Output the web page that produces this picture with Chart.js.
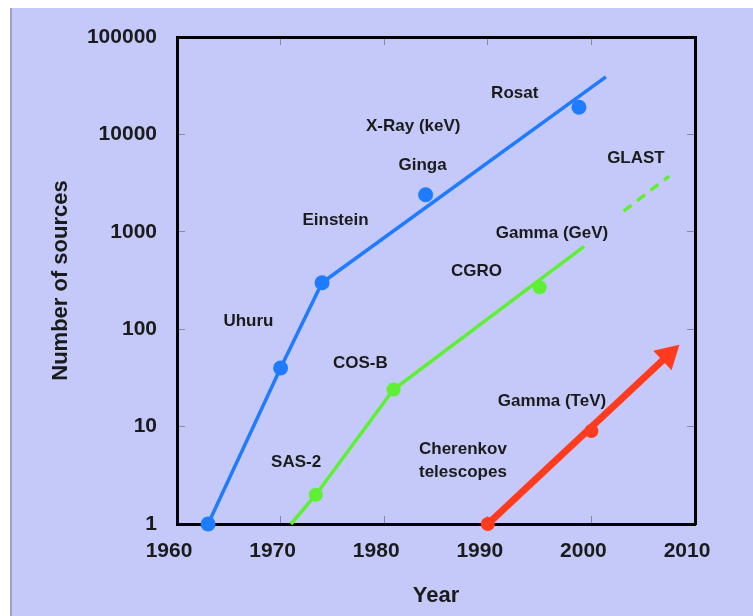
<!DOCTYPE html>
<html lang="en">
<head>
<meta charset="UTF-8">
<title>Number of sources by year</title>
<script src="https://cdn.jsdelivr.net/npm/chart.js"></script>
<style>
  html, body { margin: 0; padding: 0; background: #fff; }
  #wrap { position: relative; width: 753px; height: 616px; overflow: hidden; }
  #panel { position: absolute; left: 10px; top: 8px; right: 0; bottom: 0; background: #c5c9f9; border-left: 2px solid #a0a3cf; }
  #chart { position: absolute; left: 0; top: 0; }
</style>
</head>
<body>
<div id="wrap"><div id="panel"></div><canvas id="chart" width="753" height="616"></canvas></div>
<script>
// X-ray (keV): trend line through Uhuru / Einstein, then extrapolated
const xrayYears = [1963, 1970, 1974, 2001.4];
const xrayCounts = [1, 40, 300, 39000];
// Ginga, Rosat
const xrayMarkYears = [1984, 1998.8];
const xrayMarkCounts = [2400, 19000];

// Gamma (GeV): line through SAS-2 / COS-B
const gevYears = [1971, 1973.4, 1980.9, 1999.3];
const gevCounts = [1, 2, 24, 710];
const cgroYears = [1995];
const cgroCounts = [270];
const glastYears = [2003.1, 2007.5];
const glastCounts = [1630, 3730];

// Gamma (TeV) arrow
const tevYears = [1990, 2007.4];
const tevCounts = [1, 54];
const tevMarkYears = [2000];
const tevMarkCounts = [9];

const yearTicks = [1960, 1970, 1980, 1990, 2000, 2010];
const countTicks = [1, 10, 100, 1000, 10000, 100000];

const labelTexts = ['X-Ray (keV)', 'Ginga', 'Einstein', 'Rosat', 'GLAST', 'Gamma (GeV)', 'CGRO',
  'Uhuru', 'COS-B', 'SAS-2', 'Gamma (TeV)', 'Cherenkov\ntelescopes'];
const labelYears = [1982.8, 1983.7, 1975.3, 1992.6, 2004.3, 1996.2, 1988.9,
  1966.9, 1977.7, 1971.5, 1996.2, 1987.6];
const labelCounts = [12200, 4850, 1320, 26600, 5720, 972, 396,
  121, 45, 4.33, 18.3, 4.5];

const BLUE = '#1f7bff', GREEN = '#5ef032', RED = '#ff3b1d', INK = '#1b1b1b';
const pts = (xs, ys) => xs.map((x, i) => ({ x: x, y: ys[i] }));

const textLabels = {
  id: 'textLabels',
  afterDatasetsDraw(chart) {
    const ctx = chart.ctx, sx = chart.scales.x, sy = chart.scales.y;
    ctx.save();
    ctx.fillStyle = INK;
    ctx.font = 'bold 17px "Liberation Sans", Arial, sans-serif';
    ctx.textAlign = 'center';
    ctx.textBaseline = 'middle';
    labelTexts.forEach((t, i) => {
      const lines = t.split('\n');
      const cx = sx.getPixelForValue(labelYears[i]);
      const cy = sy.getPixelForValue(labelCounts[i]);
      lines.forEach((ln, j) => {
        ctx.fillText(ln, cx, cy + (j - (lines.length - 1) / 2) * 23);
      });
    });
    ctx.restore();
  }
};

const tickFont = { family: '"Liberation Sans", Arial, sans-serif', size: 21, weight: 'bold' };
const titleFont = { family: '"Liberation Sans", Arial, sans-serif', size: 22, weight: 'bold' };
const innerGrid = { drawOnChartArea: false, drawTicks: true, tickLength: -8, color: '#8a8a9a', lineWidth: 1 };
const frame = { display: true, color: '#000', width: 3 };

new Chart(document.getElementById('chart'), {
  type: 'scatter',
  data: {
    datasets: [
      {
        data: pts(xrayYears, xrayCounts), showLine: true, clip: false,
        borderColor: BLUE, borderWidth: 3.5, backgroundColor: BLUE,
        pointRadius: [7.5, 7.5, 7.5, 0], pointBorderWidth: 0, pointHoverRadius: [7.5, 7.5, 7.5, 0]
      },
      {
        data: pts(xrayMarkYears, xrayMarkCounts), showLine: false,
        backgroundColor: BLUE, pointRadius: 7.5, pointBorderWidth: 0
      },
      {
        data: pts(gevYears, gevCounts), showLine: true, clip: false,
        borderColor: GREEN, borderWidth: 3.5, backgroundColor: GREEN,
        pointRadius: [0, 7, 7, 0], pointBorderWidth: 0, pointHoverRadius: [0, 7, 7, 0]
      },
      {
        data: pts(cgroYears, cgroCounts), showLine: false,
        backgroundColor: GREEN, pointRadius: 7, pointBorderWidth: 0
      },
      {
        data: pts(glastYears, glastCounts), showLine: true,
        borderColor: GREEN, borderWidth: 3.5, borderDash: [10, 7], pointRadius: 0
      },
      {
        data: pts(tevMarkYears, tevMarkCounts), showLine: false,
        backgroundColor: RED, pointRadius: 7, pointBorderWidth: 0
      },
      {
        data: pts(tevYears, tevCounts), showLine: true, clip: false,
        borderColor: RED, borderWidth: 7, backgroundColor: RED,
        pointStyle: ['circle', 'triangle'], pointRadius: [7, 15.5], pointHoverRadius: [7, 15.5],
        pointBorderWidth: 0,
        pointRotation: (c) => {
          if (c.dataIndex !== 1) return 0;
          const sx = c.chart.scales.x, sy = c.chart.scales.y;
          const dx = sx.getPixelForValue(tevYears[1]) - sx.getPixelForValue(tevYears[0]);
          const dy = sy.getPixelForValue(tevCounts[1]) - sy.getPixelForValue(tevCounts[0]);
          return Math.atan2(dx, -dy) * 180 / Math.PI;
        }
      }
    ]
  },
  options: {
    responsive: false,
    animation: false,
    devicePixelRatio: 1,
    layout: { padding: { left: 0, top: 37, right: 58, bottom: 0 } },
    plugins: { legend: { display: false }, tooltip: { enabled: false } },
    scales: {
      x: {
        type: 'linear', position: 'bottom', min: 1960, max: 2010,
        afterBuildTicks: (s) => { s.ticks = yearTicks.map(v => ({ value: v })); },
        afterFit: (s) => { s.height = 92; s.paddingLeft = 0; s.paddingRight = 0; },
        ticks: { font: tickFont, color: INK, padding: 23, labelOffset: -8, maxRotation: 0, callback: (v) => String(v) },
        grid: innerGrid, border: frame,
        title: { display: true, text: 'Year', font: titleFont, color: INK, padding: { top: 0, bottom: 7 } }
      },
      y: {
        type: 'logarithmic', position: 'left', min: 1, max: 100000,
        afterBuildTicks: (s) => { s.ticks = countTicks.map(v => ({ value: v })); },
        afterFit: (s) => { s.width = 177; s.paddingTop = 0; s.paddingBottom = 0; },
        ticks: { font: tickFont, color: INK, padding: 28, callback: (v) => String(v) },
        grid: innerGrid, border: frame,
        title: { display: true, text: 'Number of sources', font: titleFont, color: INK, padding: { top: 48, bottom: 0 } }
      },
      x2: {
        type: 'linear', position: 'top', min: 1960, max: 2010,
        afterBuildTicks: (s) => { s.ticks = yearTicks.map(v => ({ value: v })); },
        afterFit: (s) => { s.height = 0; },
        ticks: { display: false },
        grid: innerGrid, border: frame
      },
      y2: {
        type: 'logarithmic', position: 'right', min: 1, max: 100000,
        afterBuildTicks: (s) => { s.ticks = countTicks.map(v => ({ value: v })); },
        afterFit: (s) => { s.width = 0; },
        ticks: { display: false },
        grid: innerGrid, border: frame
      }
    }
  },
  plugins: [textLabels]
});
</script>
</body>
</html>
